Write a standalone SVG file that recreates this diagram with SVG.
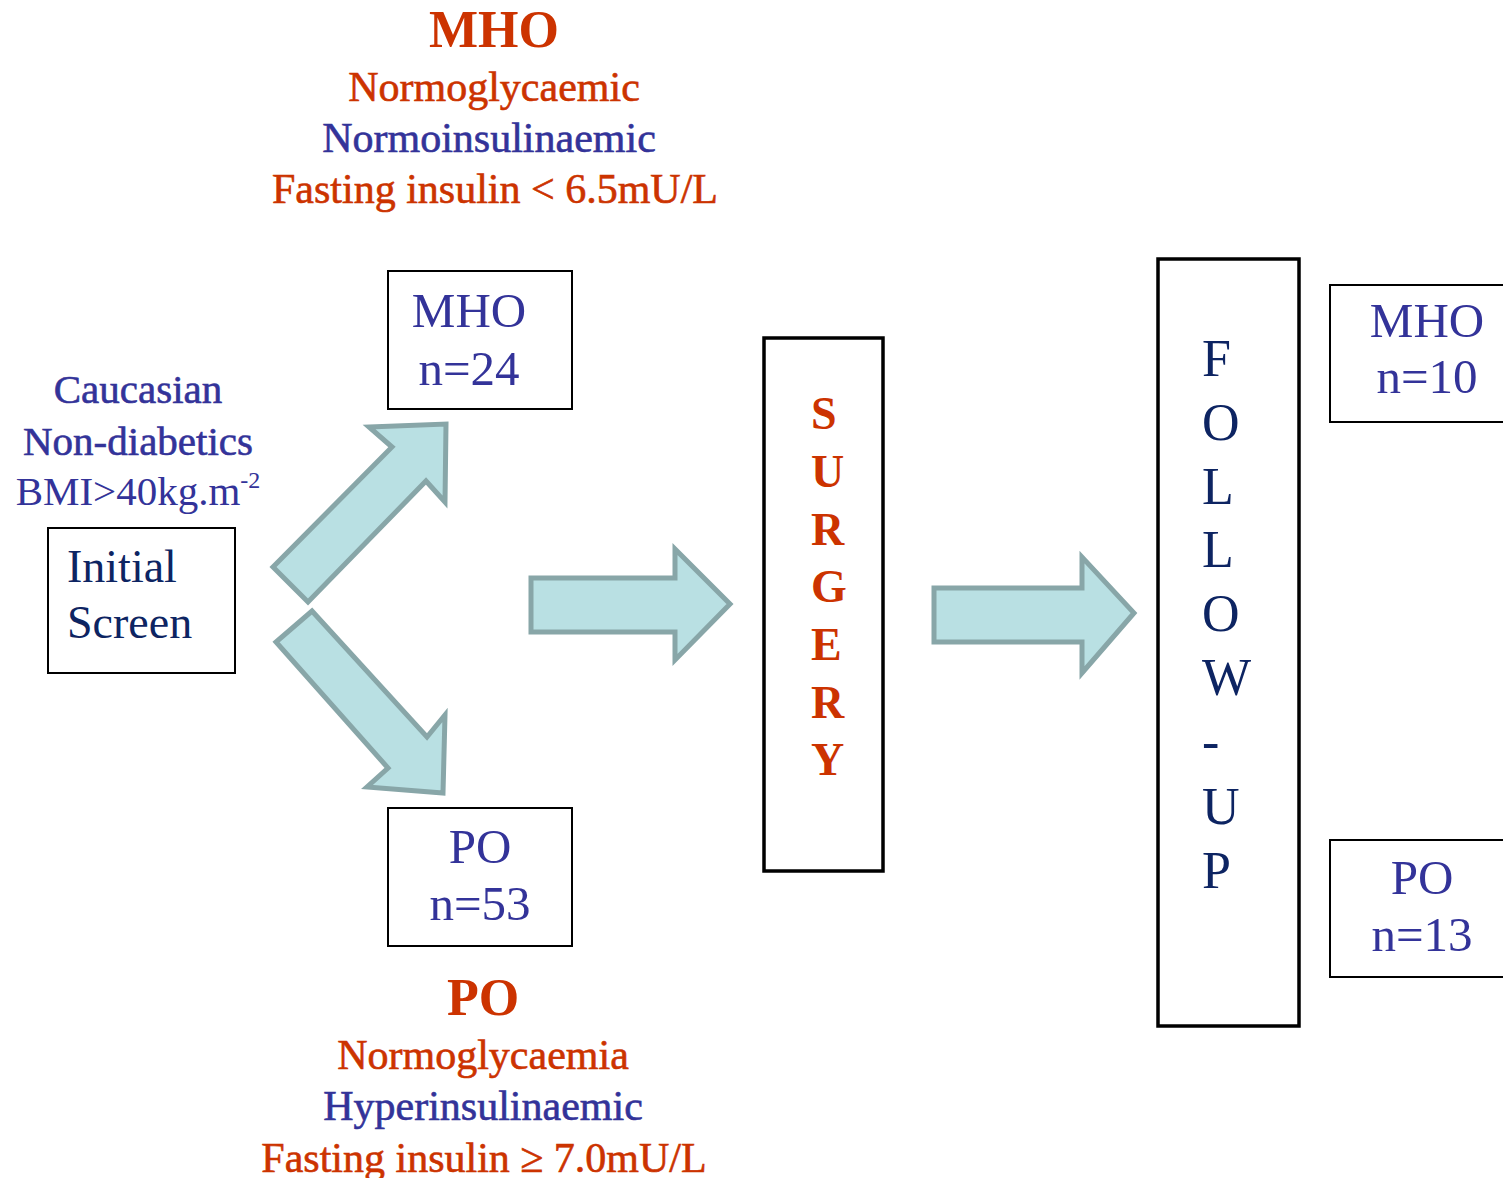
<svg xmlns="http://www.w3.org/2000/svg" width="1503" height="1178" viewBox="0 0 1503 1178">
<style>
  text { font-family: "Liberation Serif", "DejaVu Serif", serif; }
  .o { fill: #CC3300; }
  .b { fill: #333399; }
  .n { fill: #0D2462; }
  .semi.o { stroke: #CC3300; stroke-width: 0.6; }
  .semi.b { stroke: #333399; stroke-width: 0.6; }
  .title { font-size: 52px; font-weight: bold; }
  .desc { font-size: 42px; }
  .left { font-size: 41px; }
  .box { fill: #FFFFFF; stroke: #000000; stroke-width: 2; }
  .thick { fill: #FFFFFF; stroke: #000000; stroke-width: 3.5; }
  .bt { font-size: 49px; text-anchor: middle; }
  .arrow { fill: #B9E0E3; stroke: #88A6A8; stroke-width: 5; stroke-linejoin: miter; }
  .vs { font-size: 46px; font-weight: bold; }
  .vf { font-size: 52px; }
</style>

<g id="mho-criteria" text-anchor="middle">
  <text class="o title" x="494" y="47">MHO</text>
  <text class="o desc semi" x="494" y="101">Normoglycaemic</text>
  <text class="b desc semi" x="489" y="152">Normoinsulinaemic</text>
  <text class="o desc semi" x="495" y="203">Fasting insulin &lt; 6.5mU/L</text>
</g>

<g id="po-criteria" text-anchor="middle">
  <text class="o title" x="483" y="1015">PO</text>
  <text class="o desc semi" x="483" y="1069">Normoglycaemia</text>
  <text class="b desc semi" x="483" y="1120">Hyperinsulinaemic</text>
  <text class="o desc semi" x="484" y="1172">Fasting insulin ≥ 7.0mU/L</text>
</g>

<g id="population" text-anchor="middle">
  <text class="b left semi" x="138" y="403">Caucasian</text>
  <text class="b left semi" x="138" y="455">Non-diabetics</text>
  <text class="b left" x="138" y="505">BMI&gt;40kg.m<tspan font-size="24" dy="-17">-2</tspan></text>
</g>

<g id="connectors">
  <polygon class="arrow" points="273,567 392,447 369,427 446,424 445,502 426,481 308,602"/>
  <polygon class="arrow" points="312,611 427,737 445,715 443,793 367,787 388,768 276,642"/>
  <polygon class="arrow" points="531,578 675,578 675,549 730,604 675,660 675,632 531,632"/>
  <polygon class="arrow" points="934,588 1082,588 1082,557 1134,613 1082,673 1082,642 934,642"/>
</g>

<g id="initial-screen">
  <rect class="box" x="48" y="528" width="187" height="145"/>
  <text class="n" x="67" y="582" font-size="46">Initial</text>
  <text class="n" x="67" y="638" font-size="46">Screen</text>
</g>

<g id="mho-24">
  <rect class="box" x="388" y="271" width="184" height="138"/>
  <text class="b bt" x="469" y="327">MHO</text>
  <text class="b bt" x="469" y="385">n=24</text>
</g>

<g id="po-53">
  <rect class="box" x="388" y="808" width="184" height="138"/>
  <text class="b bt" x="480" y="863">PO</text>
  <text class="b bt" x="480" y="920">n=53</text>
</g>

<g id="surgery">
  <rect class="thick" x="764" y="338" width="119" height="533"/>
  <g class="o vs">
    <text x="811" y="429">S</text>
    <text x="811" y="487">U</text>
    <text x="811" y="545">R</text>
    <text x="811" y="602">G</text>
    <text x="811" y="660">E</text>
    <text x="811" y="718">R</text>
    <text x="811" y="775">Y</text>
  </g>
</g>

<g id="follow-up">
  <rect class="thick" x="1158" y="259" width="141" height="767"/>
  <g class="n vf">
    <text x="1202" y="376">F</text>
    <text x="1202" y="440">O</text>
    <text x="1202" y="504">L</text>
    <text x="1202" y="567">L</text>
    <text x="1202" y="631">O</text>
    <text x="1202" y="695">W</text>
    <text x="1202" y="759">-</text>
    <text x="1202" y="824">U</text>
    <text x="1202" y="888">P</text>
  </g>
</g>

<g id="mho-10">
  <rect class="box" x="1330" y="285" width="200" height="137"/>
  <text class="b bt" x="1427" y="337">MHO</text>
  <text class="b bt" x="1427" y="393">n=10</text>
</g>

<g id="po-13">
  <rect class="box" x="1330" y="840" width="200" height="137"/>
  <text class="b bt" x="1422" y="894">PO</text>
  <text class="b bt" x="1422" y="951">n=13</text>
</g>
</svg>
